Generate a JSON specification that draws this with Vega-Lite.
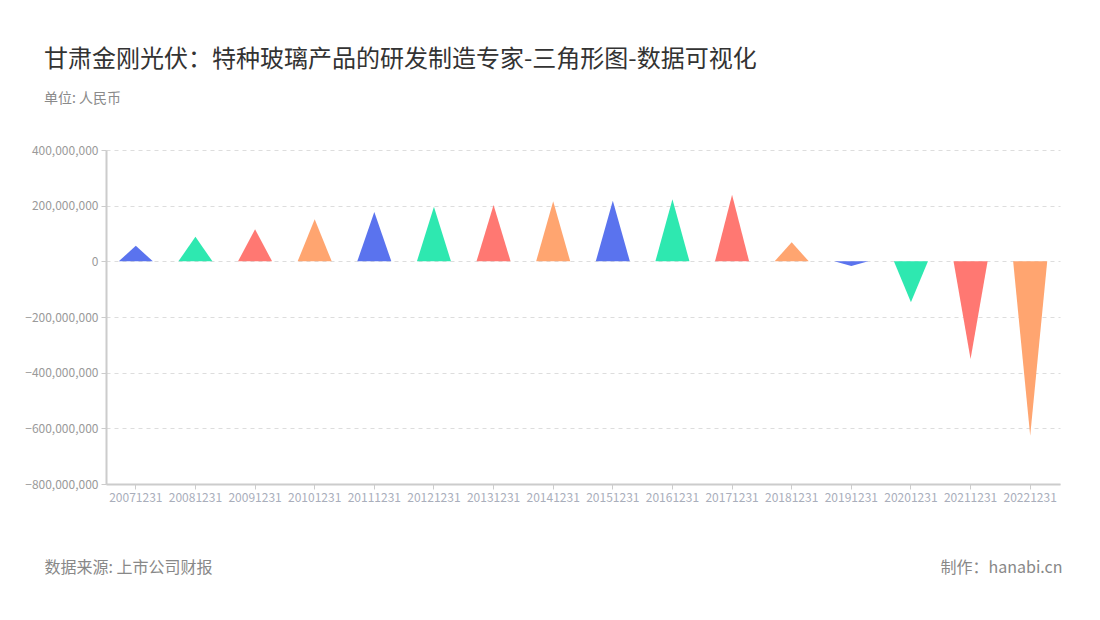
{
  "$schema": "https://vega.github.io/schema/vega-lite/v6.json",
  "width": 954,
  "height": 334,
  "autosize": {"type": "none"},
  "padding": {"left": 106, "top": 150, "right": 40, "bottom": 136},
  "background": "white",
  "config": {"font": "Noto Sans CJK SC", "view": {"stroke": null}},
  "title": {
    "text": "甘肃金刚光伏：特种玻璃产品的研发制造专家-三角形图-数据可视化",
    "subtitle": "单位: 人民币",
    "anchor": "start",
    "frame": "group",
    "dx": -62,
    "offset": 38,
    "fontSize": 24,
    "fontWeight": "normal",
    "color": "#333333",
    "subtitleFontSize": 14,
    "subtitleColor": "#8a8a8a",
    "subtitlePadding": 20
  },
  "data": {
    "values": [
      {"year": "20071231", "value": 56000000, "part": "peak"},
      {"year": "20081231", "value": 88000000, "part": "peak"},
      {"year": "20091231", "value": 115000000, "part": "peak"},
      {"year": "20101231", "value": 151000000, "part": "peak"},
      {"year": "20111231", "value": 177000000, "part": "peak"},
      {"year": "20121231", "value": 196000000, "part": "peak"},
      {"year": "20131231", "value": 202000000, "part": "peak"},
      {"year": "20141231", "value": 216000000, "part": "peak"},
      {"year": "20151231", "value": 218000000, "part": "peak"},
      {"year": "20161231", "value": 223000000, "part": "peak"},
      {"year": "20171231", "value": 239000000, "part": "peak"},
      {"year": "20181231", "value": 69000000, "part": "peak"},
      {"year": "20191231", "value": -17000000, "part": "peak"},
      {"year": "20201231", "value": -147000000, "part": "peak"},
      {"year": "20211231", "value": -351000000, "part": "peak"},
      {"year": "20221231", "value": -627000000, "part": "peak"}
    ]
  },
  "transform": [
    {"impute": "value", "key": "part", "keyvals": ["left", "peak", "right"], "groupby": ["year"], "value": 0}
  ],
  "mark": {"type": "line", "filled": true, "strokeWidth": 0},
  "encoding": {
    "x": {
      "field": "year",
      "type": "ordinal",
      "scale": {"paddingInner": 0, "paddingOuter": 0},
      "axis": {
        "title": "数据来源: 上市公司财报",
        "titleX": -62,
        "titleY": 83,
        "titleAlign": "left",
        "titleAnchor": null,
        "titleBaseline": "middle",
        "titleFontSize": 16,
        "titleFontWeight": "normal",
        "titleColor": "#888888",
        "labelAngle": 0,
        "labelColor": "#a9aebb",
        "labelFontSize": 12,
        "labelPadding": 3,
        "tickColor": "#cccccc",
        "tickSize": 5,
        "domainColor": "#cccccc",
        "domainWidth": 2,
        "grid": false
      }
    },
    "xOffset": {
      "field": "part",
      "type": "nominal",
      "scale": {"domain": ["left", "peak", "right"], "padding": 0.75}
    },
    "y": {
      "field": "value",
      "type": "quantitative",
      "stack": null,
      "scale": {"domain": [-800000000, 400000000], "nice": false},
      "axis": {
        "values": [-800000000, -600000000, -400000000, -200000000, 0, 200000000, 400000000],
        "format": ",d",
        "title": "制作：hanabi.cn",
        "titleAngle": 0,
        "titleX": 956,
        "titleY": 417,
        "titleAlign": "right",
        "titleAnchor": null,
        "titleBaseline": "middle",
        "titleFontSize": 16,
        "titleFontWeight": "normal",
        "titleColor": "#888888",
        "labelColor": "#9a9a9a",
        "labelFontSize": 12,
        "labelPadding": 3,
        "tickColor": "#cccccc",
        "tickSize": 5,
        "domainColor": "#cccccc",
        "domainWidth": 2,
        "gridColor": "#dddddd",
        "gridDash": [4, 4]
      }
    },
    "color": {
      "field": "year",
      "type": "nominal",
      "scale": {"range": ["#5a73ee", "#2ee8b0", "#ff7872", "#ffa570"]},
      "legend": null
    },
    "order": {"field": "part"}
  }
}
